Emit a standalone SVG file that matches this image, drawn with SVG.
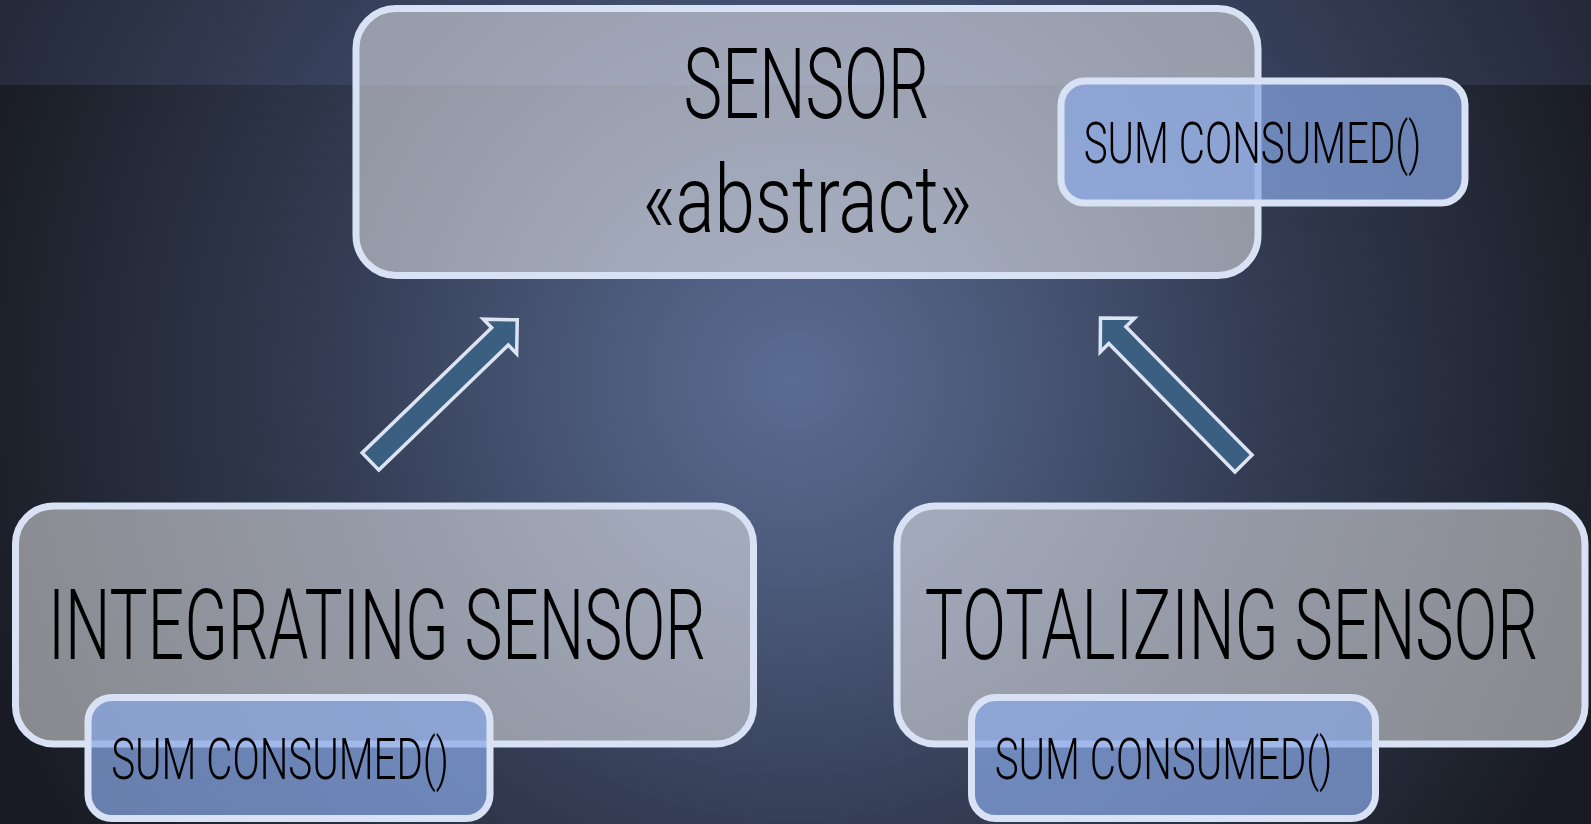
<svg xmlns="http://www.w3.org/2000/svg" width="1591" height="824" viewBox="0 0 1591 824">
  <defs>
    <radialGradient id="bg" gradientUnits="userSpaceOnUse" cx="795" cy="380" r="860">
      <stop offset="0" stop-color="#5b6c93"/>
      <stop offset="0.25" stop-color="#4a5878"/>
      <stop offset="0.53" stop-color="#343d55"/>
      <stop offset="0.8" stop-color="#242a38"/>
      <stop offset="1" stop-color="#181b23"/>
    </radialGradient>
    <style>
      .box { fill: #f8f8fa; fill-opacity: 0.5; stroke: #d9e1f4; stroke-width: 7; }
      .meth { fill: #89a8e6; fill-opacity: 0.71; stroke: #d9e1f4; stroke-width: 7; }
      .arrow { fill: #3b5f80; stroke: #dce4f4; stroke-width: 3.5; stroke-linejoin: miter; }
      .t { font-family: Roboto, "Liberation Sans", sans-serif; font-weight: 300; fill: #000; text-anchor: middle; }
      .big { font-size: 98px; }
      .small { font-size: 58px; }
    </style>
  </defs>

  <rect x="0" y="0" width="1591" height="824" fill="url(#bg)"/>
  <rect x="0" y="0" width="1591" height="85" fill="#879ce8" fill-opacity="0.12"/>

  <g id="node-sensor">
    <rect class="box" x="356" y="8.5" width="902" height="267" rx="40"/>
    <text class="t big" x="0" y="0" transform="translate(806.5 118) scale(0.67 1)" textLength="367" lengthAdjust="spacingAndGlyphs">SENSOR</text>
    <text class="t" x="0" y="0" font-size="94" transform="translate(807 232) scale(0.67 1)" textLength="492" lengthAdjust="spacingAndGlyphs">«abstract»</text>
  </g>
  <g id="node-sensor-method">
    <rect class="meth" x="1061" y="81" width="404" height="122" rx="24"/>
    <text class="t small" x="0" y="0" transform="translate(1252.5 163) scale(0.67 1)" textLength="504" lengthAdjust="spacingAndGlyphs">SUM CONSUMED()</text>
  </g>

  <g id="connectors">
    <path class="arrow" transform="translate(370.5 461.5) rotate(-44)" d="M0,-12 H180 V-24 L204,0 L180,24 V12 H0 Z"/>
    <path class="arrow" transform="translate(1243.5 463.5) rotate(-134.5)" d="M0,-12 H180 V-24 L204,0 L180,24 V12 H0 Z"/>
  </g>

  <g id="node-integrating">
    <rect class="box" x="15.5" y="506" width="738" height="238" rx="38"/>
    <text class="t big" x="0" y="0" transform="translate(377 659) scale(0.67 1)" textLength="982" lengthAdjust="spacingAndGlyphs">INTEGRATING SENSOR</text>
  </g>
  <g id="node-integrating-method">
    <rect class="meth" x="88" y="697.5" width="402" height="121" rx="24"/>
    <text class="t small" x="0" y="0" transform="translate(280 779) scale(0.67 1)" textLength="504" lengthAdjust="spacingAndGlyphs">SUM CONSUMED()</text>
  </g>

  <g id="node-totalizing">
    <rect class="box" x="897" y="506" width="688" height="238" rx="38"/>
    <text class="t big" x="0" y="0" transform="translate(1231.5 659) scale(0.67 1)" textLength="916" lengthAdjust="spacingAndGlyphs">TOTALIZING SENSOR</text>
  </g>
  <g id="node-totalizing-method">
    <rect class="meth" x="971.5" y="697.5" width="404" height="121" rx="24"/>
    <text class="t small" x="0" y="0" transform="translate(1163.5 779) scale(0.67 1)" textLength="504" lengthAdjust="spacingAndGlyphs">SUM CONSUMED()</text>
  </g>
</svg>
